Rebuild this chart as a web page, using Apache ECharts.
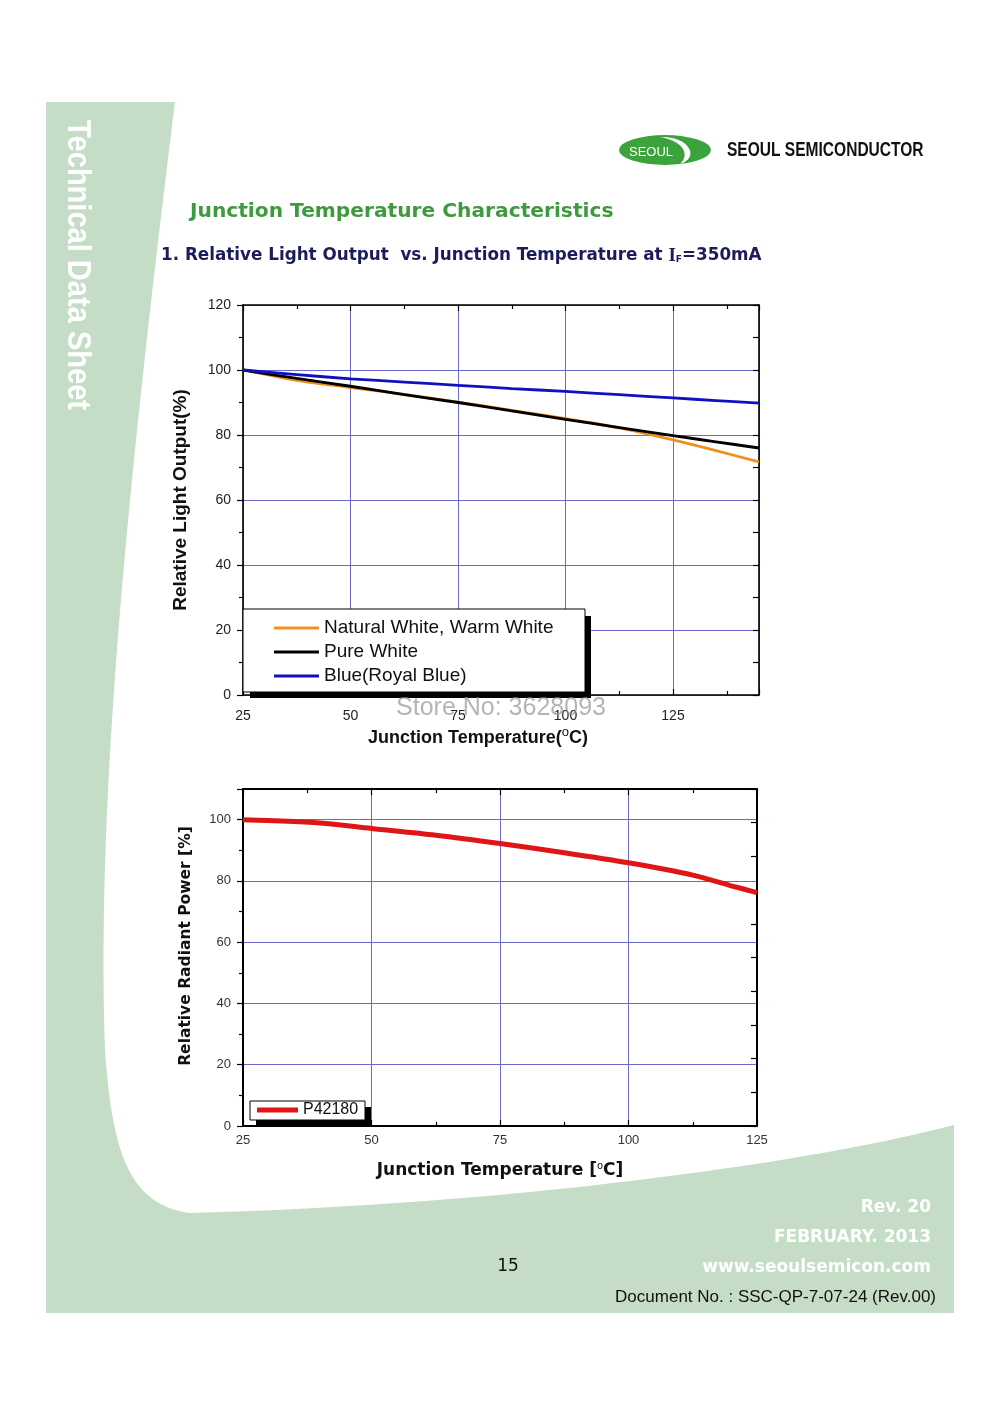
<!DOCTYPE html>
<html><head><meta charset="utf-8">
<script src="https://cdn.jsdelivr.net/npm/echarts@6/dist/echarts.min.js"></script>
<style>html,body{margin:0;padding:0;background:#fff}#c{width:1000px;height:1415px}</style>
</head><body><div id="c"></div>
<script>
// ---- Chart 1 data: Relative Light Output vs Junction Temperature ----
const temps1 = [25, 37.5, 50, 62.5, 75, 87.5, 100, 112.5, 125, 135, 145];
const naturalWhite = [100, 96.8, 94.6, 92.5, 90.1, 87.6, 85.0, 82.2, 78.5, 75.2, 71.7];
const pureWhite = [100, 97.4, 95.0, 92.4, 90.0, 87.4, 84.8, 82.3, 79.8, 77.9, 76.0];
const royalBlue = [100, 98.6, 97.3, 96.3, 95.3, 94.3, 93.4, 92.4, 91.4, 90.6, 89.8];
const xTicks1 = [25, 50, 75, 100, 125];
const yTicks1 = [0, 20, 40, 60, 80, 100, 120];
// ---- Chart 2 data: Relative Radiant Power ----
const temps2 = [25, 30, 40, 50, 62.5, 75, 87.5, 100, 112.5, 120, 125];
const p42180 = [100, 99.7, 98.9, 97.1, 94.9, 92.2, 89.2, 85.9, 81.9, 78.4, 76.2];
const xTicks2 = [25, 50, 75, 100, 125];
const yTicks2 = [0, 20, 40, 60, 80, 100];

const names1 = ['Natural White, Warm White', 'Pure White', 'Blue(Royal Blue)'];
const name2 = 'P42180';

const pairs = (xs, ys) => xs.map((x, i) => [x, ys[i]]);
const GRIDC = '#6a6acc';
const SANS = '"Liberation Sans", Arial, sans-serif';
const VERD = '"DejaVu Sans", Verdana, sans-serif';

// page decoration outline (green band) built from cubic segments
function cubicPts(p0, p1, p2, p3, n) {
  const out = [];
  for (let i = 1; i <= n; i++) {
    const t = i / n, u = 1 - t;
    out.push([u*u*u*p0[0] + 3*u*u*t*p1[0] + 3*u*t*t*p2[0] + t*t*t*p3[0],
              u*u*u*p0[1] + 3*u*u*t*p1[1] + 3*u*t*t*p2[1] + t*t*t*p3[1]]);
  }
  return out;
}
const bandPts = [[46, 102], [175, 102]]
  .concat(cubicPts([175, 102], [128, 480], [96, 800], [105, 1050], 40))
  .concat(cubicPts([105, 1050], [112, 1150], [128, 1205], [190, 1213], 30))
  .concat(cubicPts([190, 1213], [500, 1205], [800, 1165], [954, 1125], 40))
  .concat([[954, 1313], [46, 1313]]);
const swooshPts = [[660, 137]]
  .concat(cubicPts([660, 137], [690, 136], [700, 158], [680, 164], 16))
  .concat(cubicPts([680, 164], [690, 155], [684, 141], [660, 137], 16));

const chart = echarts.init(document.getElementById('c'), null, {renderer: 'canvas'});

function xAx(grid, min, max, pos, labels, split, lw, fmtTicks, extra) {
  return Object.assign({
    type: 'value', gridIndex: grid, min: min, max: max, interval: 25, position: pos,
    axisLine: {show: true, onZero: false, lineStyle: {color: '#000', width: lw}},
    axisTick: {show: true, inside: true, length: 6, lineStyle: {color: '#000', width: 1.2}},
    minorTick: {show: true, splitNumber: 2, length: 4, lineStyle: {color: '#000', width: 1.2}},
    axisLabel: {show: labels, color: '#222', fontFamily: SANS,
      formatter: v => fmtTicks.indexOf(v) >= 0 ? String(v) : ''},
    splitLine: {show: split, lineStyle: {color: GRIDC, width: 1}},
    minorSplitLine: {show: false}
  }, extra || {});
}

const option = {
  backgroundColor: '#fff',
  animation: false,
  grid: [
    {left: 243, top: 305, width: 516, height: 390},
    {left: 243, top: 789, width: 514, height: 337}
  ],
  xAxis: [
    xAx(0, 25, 145, 'bottom', true, true, 1.6, xTicks1, {
      axisLabel: {show: true, color: '#222', fontFamily: SANS, fontSize: 14, margin: 14,
        formatter: v => xTicks1.indexOf(v) >= 0 ? String(v) : ''},
      name: 'Junction Temperature({sup|o}C)', nameLocation: 'middle', nameGap: 31,
      nameTextStyle: {fontFamily: SANS, fontSize: 18, fontWeight: 'bold', color: '#111', padding: [0, 46, 0, 0],
        rich: {sup: {fontFamily: SANS, fontSize: 13, fontWeight: 'normal', color: '#111', padding: [0, 0, 11, 0]}}}
    }),
    xAx(0, 25, 145, 'top', false, false, 1.6, xTicks1),
    xAx(1, 25, 125, 'bottom', true, true, 2, xTicks2, {
      axisLabel: {show: true, color: '#333', fontFamily: SANS, fontSize: 13, margin: 8,
        formatter: v => xTicks2.indexOf(v) >= 0 ? String(v) : ''},
      name: 'Junction Temperature [{sup|o}C]', nameLocation: 'middle', nameGap: 35,
      nameTextStyle: {fontFamily: VERD, fontSize: 17, fontWeight: 'bold', color: '#111',
        rich: {sup: {fontFamily: VERD, fontSize: 10, fontWeight: 'normal', color: '#111', padding: [0, 0, 9, 0]}}}
    }),
    xAx(1, 25, 125, 'top', false, false, 2, xTicks2)
  ],
  yAxis: [
    {
      type: 'value', gridIndex: 0, min: 0, max: 120, interval: 20, position: 'left',
      axisLine: {show: true, onZero: false, lineStyle: {color: '#000', width: 1.6}},
      axisTick: {show: true, inside: false, length: 6, lineStyle: {color: '#000', width: 1.2}},
      minorTick: {show: true, splitNumber: 2, length: 4, lineStyle: {color: '#000', width: 1.2}},
      axisLabel: {color: '#222', fontFamily: SANS, fontSize: 14, margin: 12,
        formatter: v => yTicks1.indexOf(v) >= 0 ? String(v) : ''},
      splitLine: {show: true, lineStyle: {color: GRIDC, width: 1}},
      name: 'Relative Light Output(%)', nameLocation: 'middle', nameGap: 53, nameRotate: 90,
      nameTextStyle: {fontFamily: SANS, fontSize: 19, fontWeight: 'bold', color: '#111'}
    },
    {
      type: 'value', gridIndex: 0, min: 0, max: 120, interval: 10, position: 'right',
      axisLine: {show: true, onZero: false, lineStyle: {color: '#000', width: 1.6}},
      axisTick: {show: true, inside: true, length: 6, lineStyle: {color: '#000', width: 1.2}},
      axisLabel: {show: false}, splitLine: {show: false}
    },
    {
      type: 'value', gridIndex: 1, min: 0, max: 110, interval: 20, position: 'left',
      axisLine: {show: true, onZero: false, lineStyle: {color: '#000', width: 2}},
      axisTick: {show: true, inside: false, length: 6, lineStyle: {color: '#000', width: 1.2}},
      minorTick: {show: true, splitNumber: 2, length: 4, lineStyle: {color: '#000', width: 1.2}},
      axisLabel: {color: '#333', fontFamily: SANS, fontSize: 13, margin: 12,
        formatter: v => yTicks2.indexOf(v) >= 0 ? String(v) : ''},
      splitLine: {show: true, lineStyle: {color: GRIDC, width: 1}},
      name: 'Relative Radiant Power [%]', nameLocation: 'middle', nameGap: 49, nameRotate: 90,
      nameTextStyle: {fontFamily: VERD, fontSize: 15.5, fontWeight: 'bold', color: '#111', padding: [0, 0, 0, 23]}
    },
    {
      type: 'value', gridIndex: 1, min: 0, max: 110, interval: 11, position: 'right',
      axisLine: {show: true, onZero: false, lineStyle: {color: '#000', width: 2}},
      axisTick: {show: true, inside: true, length: 6, lineStyle: {color: '#000', width: 1.2}},
      axisLabel: {show: false}, splitLine: {show: false}
    }
  ],
  legend: [
    {
      data: names1.map(n => ({name: n, icon: 'rect'})), orient: 'vertical', left: 274, top: 616, padding: 0,
      itemWidth: 45, itemHeight: 3, itemGap: 0, selectedMode: false, z: 6,
      textStyle: {fontFamily: SANS, fontSize: 19, color: '#111', lineHeight: 24}
    },
    {
      data: [{name: name2, icon: 'rect'}], orient: 'vertical', left: 257, top: 1101, padding: 0,
      itemWidth: 41, itemHeight: 5, selectedMode: false, z: 6,
      textStyle: {fontFamily: SANS, fontSize: 16, color: '#111', lineHeight: 18}
    }
  ],
  series: [
    {name: names1[0], type: 'line', xAxisIndex: 0, yAxisIndex: 0, data: pairs(temps1, naturalWhite),
      smooth: 0.3, symbol: 'none', lineStyle: {color: '#f0901f', width: 2.8}, itemStyle: {color: '#f0901f'}, z: 2},
    {name: names1[1], type: 'line', xAxisIndex: 0, yAxisIndex: 0, data: pairs(temps1, pureWhite),
      smooth: 0.3, symbol: 'none', lineStyle: {color: '#000000', width: 2.8}, itemStyle: {color: '#000'}, z: 3},
    {name: names1[2], type: 'line', xAxisIndex: 0, yAxisIndex: 0, data: pairs(temps1, royalBlue),
      smooth: 0.3, symbol: 'none', lineStyle: {color: '#1010c0', width: 2.8}, itemStyle: {color: '#1010c0'}, z: 3},
    {name: name2, type: 'line', xAxisIndex: 2, yAxisIndex: 2, data: pairs(temps2, p42180),
      smooth: 0.3, symbol: 'none', lineStyle: {color: '#e01515', width: 5}, itemStyle: {color: '#e01515'}, z: 3}
  ],
  graphic: [
    {type: 'polygon', z: -10, silent: true, shape: {points: bandPts}, style: {fill: '#c5ddc6'}},
    {type: 'text', z: -5, x: 77, y: 120, rotation: -Math.PI / 2, scaleX: 0.88, silent: true,
      style: {text: 'Technical Data Sheet', fill: '#ffffff', font: 'bold 33px "Liberation Sans", sans-serif',
        textAlign: 'left', textVerticalAlign: 'middle'}},
    // logo
    {type: 'circle', z: 1, x: 665, y: 150, scaleY: 15 / 46, shape: {cx: 0, cy: 0, r: 46}, style: {fill: '#3ca33c'}},
    {type: 'polygon', z: 2, shape: {points: swooshPts}, style: {fill: '#ffffff'}},
    {type: 'text', z: 3, x: 651, y: 152, style: {text: 'SEOUL', fill: '#fff', font: '13px "Liberation Sans", sans-serif', textAlign: 'center', textVerticalAlign: 'middle'}},
    {type: 'text', z: 3, x: 727, y: 150, scaleX: 0.74, style: {text: 'SEOUL SEMICONDUCTOR', fill: '#111', font: 'bold 21px "Liberation Sans", sans-serif', textAlign: 'left', textVerticalAlign: 'middle'}},
    // titles
    {type: 'text', z: 3, x: 190, y: 212, style: {text: 'Junction Temperature Characteristics', fill: '#3f9a3f', font: 'bold 20.2px "DejaVu Sans", sans-serif', textAlign: 'left', textVerticalAlign: 'middle'}},
    {type: 'text', z: 3, x: 161, y: 256, style: {
      text: '1. Relative Light Output  vs. Junction Temperature at {i|I}{sub|F}=350mA',
      fill: '#1c1c5c', font: 'bold 16.8px "DejaVu Sans", sans-serif', textAlign: 'left', textVerticalAlign: 'middle',
      rich: {i: {fontFamily: '"Liberation Serif", serif', fontWeight: 'bold', fontSize: 19, fill: '#1c1c5c'},
             sub: {fontFamily: '"DejaVu Sans", sans-serif', fontWeight: 'bold', fontSize: 9, fill: '#1c1c5c', padding: [8, 0, 0, 0]}}}},
    // legend boxes
    {type: 'rect', z: 4, shape: {x: 250, y: 616, width: 341, height: 82}, style: {fill: '#000'}},
    {type: 'rect', z: 4, shape: {x: 243, y: 609, width: 342, height: 83}, style: {fill: '#fff', stroke: '#000', lineWidth: 1}},
    {type: 'rect', z: 4, shape: {x: 256, y: 1107, width: 115, height: 19}, style: {fill: '#000'}},
    {type: 'rect', z: 4, shape: {x: 250, y: 1101, width: 115, height: 19}, style: {fill: '#fff', stroke: '#000', lineWidth: 1}},
    // watermark
    {type: 'text', z: 20, x: 501, y: 708, silent: true, style: {text: 'Store No: 3628093', fill: 'rgba(150,150,150,0.7)', font: '25px "Liberation Sans", sans-serif', textAlign: 'center', textVerticalAlign: 'middle'}},
    // footer
    {type: 'text', z: 3, x: 931, y: 1208, style: {text: 'Rev. 20', fill: '#ffffff', font: 'bold 17px "DejaVu Sans", sans-serif', textAlign: 'right', textVerticalAlign: 'middle'}},
    {type: 'text', z: 3, x: 931, y: 1238, style: {text: 'FEBRUARY. 2013', fill: '#ffffff', font: 'bold 17px "DejaVu Sans", sans-serif', textAlign: 'right', textVerticalAlign: 'middle'}},
    {type: 'text', z: 3, x: 931, y: 1268, style: {text: 'www.seoulsemicon.com', fill: '#ffffff', font: 'bold 17px "DejaVu Sans", sans-serif', textAlign: 'right', textVerticalAlign: 'middle'}},
    {type: 'text', z: 3, x: 508, y: 1267, style: {text: '15', fill: '#111', font: '17px "DejaVu Sans", sans-serif', textAlign: 'center', textVerticalAlign: 'middle'}},
    {type: 'text', z: 3, x: 936, y: 1297, style: {text: 'Document No. : SSC-QP-7-07-24 (Rev.00)', fill: '#111', font: '17px "Liberation Sans", sans-serif', textAlign: 'right', textVerticalAlign: 'middle'}}
  ]
};
chart.setOption(option);
</script>
</body></html>
